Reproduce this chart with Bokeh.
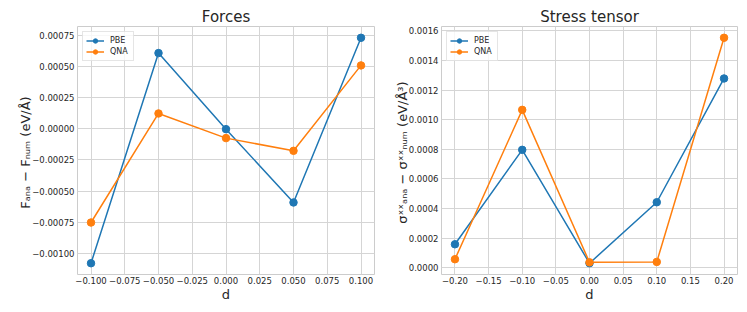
from bokeh.plotting import figure
from bokeh.layouts import row
from bokeh.models import FixedTicker, CustomJSTickFormatter, Range1d
from bokeh.embed import file_html
from bokeh.resources import INLINE

# ---- data ----
d_forces = [-0.10, -0.05, 0.0, 0.05, 0.10]
forces_pbe = [-0.00108, 0.000608, -0.000003, -0.000592, 0.000731]
forces_qna = [-0.000753, 0.000123, -0.000075, -0.000177, 0.000509]

d_stress = [-0.2, -0.1, 0.0, 0.1, 0.2]
stress_pbe = [0.000158, 0.000796, 0.000030, 0.000442, 0.001278]
stress_qna = [0.000057, 0.001066, 0.000036, 0.000039, 0.001553]

forces_xticks = [-0.100, -0.075, -0.050, -0.025, 0.0, 0.025, 0.050, 0.075, 0.100]
forces_yticks = [-0.00100, -0.00075, -0.00050, -0.00025, 0.0, 0.00025, 0.00050, 0.00075]
stress_xticks = [-0.20, -0.15, -0.10, -0.05, 0.0, 0.05, 0.10, 0.15, 0.20]
stress_yticks = [0.0, 0.0002, 0.0004, 0.0006, 0.0008, 0.0010, 0.0012, 0.0014, 0.0016]

series_names = ["PBE", "QNA"]
series_colors = ["#1f77b4", "#ff7f0e"]

FONT = "DejaVu Sans"
TXT = "#262626"
GRID = "#d5d5d5"


def padded(vals, frac=0.05):
    lo, hi = min(vals), max(vals)
    m = (hi - lo) * frac
    return lo - m, hi + m


def fmt(decimals):
    return CustomJSTickFormatter(
        code="return tick.toFixed(%d).replace('-', '\u2212');" % decimals)


def make_panel(title, xs, ys_list, xticks, yticks, xdec, ydec, ylabel,
               border_left, border_right, frame_w):
    x0, x1 = padded(xs)
    allys = [v for ys in ys_list for v in ys]
    y0, y1 = padded(allys)
    p = figure(frame_width=frame_w, frame_height=248,
               min_border_left=border_left, min_border_right=border_right,
               min_border_top=26, min_border_bottom=38,
               x_range=Range1d(x0, x1), y_range=Range1d(y0, y1),
               output_backend="svg", toolbar_location=None,
               background_fill_color="white", border_fill_color="white")
    p.title.text = title
    p.title.align = "center"
    p.title.text_font = FONT
    p.title.text_font_size = "15px"
    p.title.text_font_style = "normal"
    p.title.text_color = TXT
    p.title.standoff = 2
    p.title.offset = 0

    for ys, name, col in zip(ys_list, series_names, series_colors):
        p.line(xs, ys, line_color=col, line_width=1.5, legend_label=name)
        p.scatter(xs, ys, size=7.5, fill_color=col, line_color=col,
                  legend_label=name)

    p.outline_line_color = "#cccccc"
    p.outline_line_width = 1

    p.xaxis.ticker = FixedTicker(ticks=xticks)
    p.yaxis.ticker = FixedTicker(ticks=yticks)
    p.xaxis.formatter = fmt(xdec)
    p.yaxis.formatter = fmt(ydec)
    for ax in (p.xaxis, p.yaxis):
        ax.axis_line_color = None
        ax.major_tick_line_color = None
        ax.minor_tick_line_color = None
        ax.major_tick_out = 0
        ax.major_tick_in = 0
        ax.major_label_text_font = FONT
        ax.major_label_text_font_size = "8.5px"
        ax.major_label_text_color = TXT
        ax.major_label_standoff = 3
        ax.axis_label_text_font = FONT
        ax.axis_label_text_font_size = "13px"
        ax.axis_label_text_font_style = "normal"
        ax.axis_label_text_color = TXT
    p.xaxis.major_label_standoff = 2
    p.xaxis.axis_label = "d"
    p.xaxis.axis_label_standoff = 0
    p.yaxis.axis_label = ylabel
    p.yaxis.axis_label_standoff = -4

    p.xgrid.grid_line_color = GRID
    p.ygrid.grid_line_color = GRID
    p.xgrid.grid_line_width = 1
    p.ygrid.grid_line_width = 1

    lg = p.legend[0]
    lg.location = "top_left"
    lg.margin = 5
    lg.padding = 3
    lg.spacing = 0
    lg.glyph_width = 18
    lg.glyph_height = 11
    lg.label_height = 11
    lg.label_standoff = 6
    lg.label_text_font = FONT
    lg.label_text_font_size = "8px"
    lg.label_text_color = TXT
    lg.border_line_color = "#cccccc"
    lg.border_line_width = 1
    lg.background_fill_color = "white"
    lg.background_fill_alpha = 0.8
    return p


p1 = make_panel("Forces", d_forces, [forces_pbe, forces_qna],
                forces_xticks, forces_yticks, 3, 5,
                "F\u2090\u2099\u2090 \u2212 F\u2099\u1d64\u2098  (eV/\u00c5)",
                77, 2, 297)
p2 = make_panel("Stress tensor", d_stress, [stress_pbe, stress_qna],
                stress_xticks, stress_yticks, 2, 4,
                "\u03c3\u02e3\u02e3\u2090\u2099\u2090 \u2212 \u03c3\u02e3\u02e3\u2099\u1d64\u2098  (eV/\u00c5\u00b3)",
                65, 10, 296)

layout = row(p1, p2)
open("out.html", "w").write(file_html(layout, INLINE))
